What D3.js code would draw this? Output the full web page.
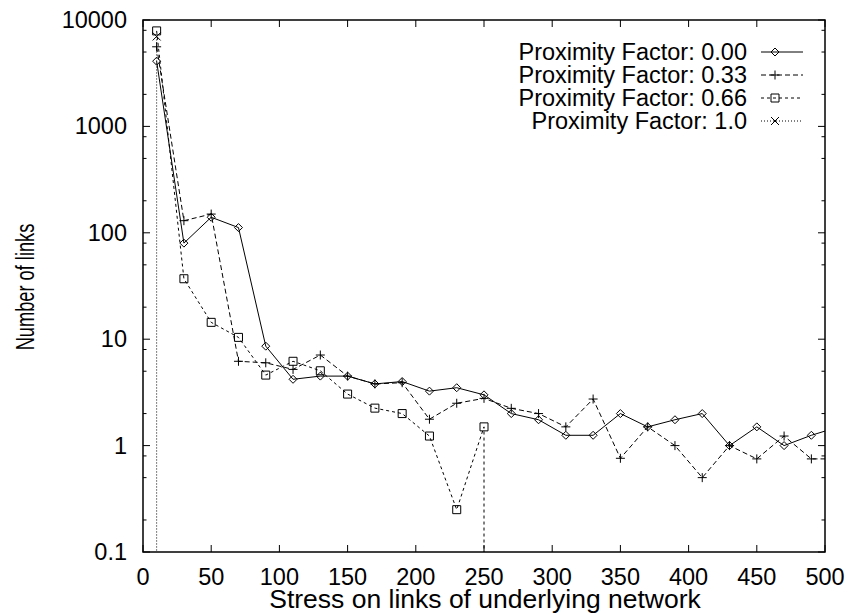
<!DOCTYPE html>
<html>
<head>
<meta charset="utf-8">
<script src="https://cdn.jsdelivr.net/npm/d3@7"></script>
<style>
  body { margin: 0; background: #fff; }
  text { font-family: "Liberation Sans", Arial, sans-serif; fill: #000; }
</style>
</head>
<body>
<svg id="chart" width="852" height="615"></svg>
<script>
// stress values (x) and number of links per proximity factor
var stress = [10, 30, 50, 70, 90, 110, 130, 150, 170, 190, 210, 230, 250,
  270, 290, 310, 330, 350, 370, 390, 410, 430, 450, 470, 490, 510];
var pf000 = [4100, 80, 140, 112, 8.6, 4.2, 4.5, 4.5, 3.8, 4.0, 3.25, 3.5, 3.0,
  2.0, 1.75, 1.25, 1.25, 2.0, 1.5, 1.75, 2.0, 1.0, 1.5, 1.0, 1.25, 1.5];
var pf033 = [5600, 130, 150, 6.2, 6.0, 5.2, 7.1, 4.5, 3.8, 3.9, 1.77, 2.5, 2.78,
  2.24, 2.0, 1.5, 2.74, 0.76, 1.5, 1.0, 0.5, 1.0, 0.75, 1.23, 0.75, 0.75];
var stress066 = [10, 30, 50, 70, 90, 110, 130, 150, 170, 190, 210, 230, 250, 250];
var pf066 = [7900, 37, 14.4, 10.4, 4.6, 6.2, 5.05, 3.05, 2.25, 2.0, 1.23, 0.25, 1.5, 0];
var stress100 = [10, 10];
var pf100 = [7000, 0];

var xTicks = [0, 50, 100, 150, 200, 250, 300, 350, 400, 450, 500];
var yTicks = [0.1, 1, 10, 100, 1000, 10000];
var yMinor = [2, 5, 8];

var series = [
  {label: "Proximity Factor: 0.00", x: stress, y: pf000, dash: null, mark: "diamond"},
  {label: "Proximity Factor: 0.33", x: stress, y: pf033, dash: "5,3", mark: "plus"},
  {label: "Proximity Factor: 0.66", x: stress066, y: pf066, dash: "3,3", mark: "square"},
  {label: "Proximity Factor: 1.0", x: stress100, y: pf100, dash: "1,2", mark: "cross"}
];

var svg = d3.select("#chart"),
  margin = {top: 20, right: 27, bottom: 63, left: 143},
  width = +svg.attr("width") - margin.left - margin.right,
  height = +svg.attr("height") - margin.top - margin.bottom,
  g = svg.append("g").attr("transform", "translate(" + margin.left + "," + margin.top + ")");

var x = d3.scaleLinear().domain([0, 500]).range([0, width]);
var y = d3.scaleLog().domain([0.1, 10000]).range([height, 0]);

svg.append("defs").append("clipPath").attr("id", "plot")
  .append("rect").attr("width", width).attr("height", height);

// ticks on all four sides, pointing in
var minorVals = [];
yTicks.slice(0, -1).forEach(function(d) {
  yMinor.forEach(function(m) { minorVals.push(d * m); });
});

var ticks = g.append("g").attr("stroke", "#000").attr("stroke-width", 1);
xTicks.forEach(function(d) {
  ticks.append("line").attr("x1", x(d)).attr("x2", x(d)).attr("y1", height).attr("y2", height - 7);
  ticks.append("line").attr("x1", x(d)).attr("x2", x(d)).attr("y1", 0).attr("y2", 7);
});
yTicks.forEach(function(d) {
  ticks.append("line").attr("x1", 0).attr("x2", 7).attr("y1", y(d)).attr("y2", y(d));
  ticks.append("line").attr("x1", width).attr("x2", width - 7).attr("y1", y(d)).attr("y2", y(d));
});
minorVals.forEach(function(d) {
  ticks.append("line").attr("x1", 0).attr("x2", 3.5).attr("y1", y(d)).attr("y2", y(d));
  ticks.append("line").attr("x1", width).attr("x2", width - 3.5).attr("y1", y(d)).attr("y2", y(d));
});

g.selectAll(".xlab").data(xTicks).enter().append("text")
  .attr("x", function(d) { return x(d); })
  .attr("y", height + 33)
  .attr("text-anchor", "middle")
  .style("font-size", "23.5px")
  .text(function(d) { return d; });

g.selectAll(".ylab").data(yTicks).enter().append("text")
  .attr("x", -16)
  .attr("y", function(d) { return y(d) + 8; })
  .attr("text-anchor", "end")
  .style("font-size", "23.5px")
  .text(function(d) { return d; });

svg.append("text")
  .attr("x", 485)
  .attr("y", 608)
  .attr("text-anchor", "middle")
  .style("font-size", "26.5px")
  .text("Stress on links of underlying network");

// y title: compressed along its length like the reference
svg.append("text")
  .attr("transform", "translate(34," + (margin.top + height / 2 + 1) + ") rotate(-90) scale(0.73,1)")
  .attr("text-anchor", "middle")
  .style("font-size", "25px")
  .text("Number of links");

function drawMark(sel, type, cx, cy) {
  var p = sel.append("path").attr("fill", "none").attr("stroke", "#000").attr("stroke-width", 1);
  if (type == "diamond") p.attr("d", "M" + (cx - 4) + "," + cy + "L" + cx + "," + (cy - 4) + "L" + (cx + 4) + "," + cy + "L" + cx + "," + (cy + 4) + "Z");
  if (type == "plus") p.attr("d", "M" + (cx - 4.5) + "," + cy + "H" + (cx + 4.5) + "M" + cx + "," + (cy - 4.5) + "V" + (cy + 4.5));
  if (type == "square") p.attr("d", "M" + (cx - 4) + "," + (cy - 4) + "h8v8h-8Z");
  if (type == "cross") p.attr("d", "M" + (cx - 4) + "," + (cy - 4) + "L" + (cx + 4) + "," + (cy + 4) + "M" + (cx - 4) + "," + (cy + 4) + "L" + (cx + 4) + "," + (cy - 4));
}

var plot = g.append("g").attr("clip-path", "url(#plot)");
var line = d3.line()
  .x(function(d) { return x(d[0]); })
  .y(function(d) { return y(d[1] > 0 ? d[1] : 0.1); });

series.forEach(function(s) {
  var pts = s.x.map(function(v, i) { return [v, s.y[i]]; });
  plot.append("path")
    .attr("d", line(pts))
    .attr("fill", "none")
    .attr("stroke", "#000")
    .attr("stroke-width", 1)
    .attr("stroke-dasharray", s.dash);
  pts.filter(function(d) { return d[1] > 0 && d[0] <= 500; }).forEach(function(d) {
    drawMark(plot, s.mark, x(d[0]), y(d[1]));
  });
});

// legend
var legend = svg.append("g");
series.forEach(function(s, i) {
  var ly = 52 + i * 23;
  legend.append("text")
    .attr("x", 747).attr("y", ly + 8)
    .attr("text-anchor", "end")
    .style("font-size", "23.5px")
    .text(s.label);
  legend.append("line")
    .attr("x1", 761).attr("x2", 803).attr("y1", ly).attr("y2", ly)
    .attr("stroke", "#000").attr("stroke-width", 1)
    .attr("stroke-dasharray", s.dash);
  drawMark(legend, s.mark, 775, ly);
});

g.append("rect")
  .attr("width", width).attr("height", height)
  .attr("fill", "none").attr("stroke", "#000").attr("stroke-width", 1.5);
</script>
</body>
</html>
